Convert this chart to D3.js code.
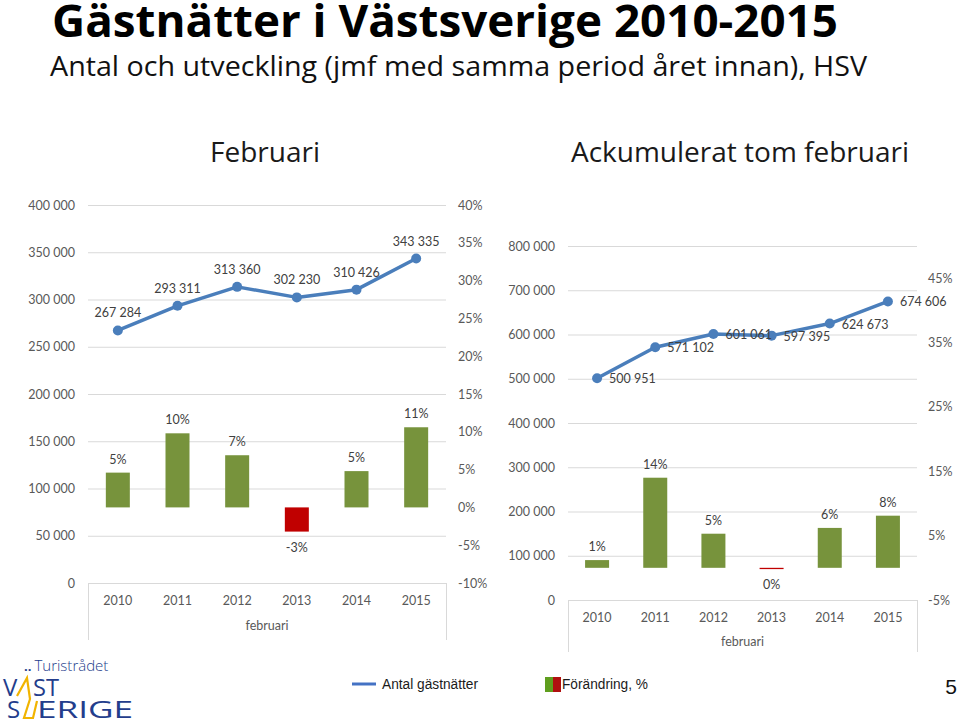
<!DOCTYPE html>
<html><head><meta charset="utf-8">
<script src="https://cdn.jsdelivr.net/npm/d3@7"></script>
<style>body{margin:0;background:#fff}svg{display:block}</style>
</head><body><svg id="c" width="960" height="725"></svg>
<script>
// ---- data ----
const years = ["2010","2011","2012","2013","2014","2015"];
const febNights = [267284, 293311, 313360, 302230, 310426, 343335];
const febChange = [4.6, 9.8, 6.9, -3.2, 4.8, 10.6];
const accNights = [500951, 571102, 601061, 597395, 624673, 674606];
const accChange = [1.2, 14.0, 5.3, -0.2, 6.2, 8.1];
const febLeftTicks = [0, 50000, 100000, 150000, 200000, 250000, 300000, 350000, 400000];
const febRightTicks = [-10, -5, 0, 5, 10, 15, 20, 25, 30, 35, 40];
const accLeftTicks = [0, 100000, 200000, 300000, 400000, 500000, 600000, 700000, 800000];
const accRightTicks = [-5, 5, 15, 25, 35, 45];
const titleText = "Gästnätter i Västsverige 2010-2015";
const subtitleText = "Antal och utveckling (jmf med samma period året innan), HSV";
const headers = ["Februari", "Ackumulerat tom februari"];
const catLabel = "februari";
const legendLabels = ["Antal gästnätter", "Förändring, %"];

const loc = d3.formatLocale({decimal: ",", thousands: " ", grouping: [3], currency: ["", ""], minus: "-"});
const fmtNum = loc.format(",d");
const fmtPct = v => loc.format(".0f")(v) + "%";

const svg = d3.select("#c");
const SMALL = "Lato, 'Open Sans', sans-serif";
const FS = 12.5;
const BLUE = "#4a7ebb", GREEN = "#77933c", RED = "#c00000", GRID = "#d9d9d9";

// ---- titles ----
svg.append("text").attr("x", 52).attr("y", 37)
  .attr("font-family", "'Open Sans', sans-serif").attr("font-weight", 700).attr("font-size", 44)
  .attr("textLength", 786).attr("lengthAdjust", "spacingAndGlyphs").attr("fill", "#000").text(titleText);
svg.append("text").attr("x", 50).attr("y", 76)
  .attr("font-family", "'Open Sans', sans-serif").attr("font-weight", 400).attr("font-size", 28)
  .attr("textLength", 817).attr("lengthAdjust", "spacingAndGlyphs").attr("fill", "#111").text(subtitleText);
[[265, headers[0]], [740, headers[1]]].forEach(([cx, t]) => {
  svg.append("text").attr("x", cx).attr("y", 162).attr("text-anchor", "middle")
    .attr("font-family", "'Open Sans', sans-serif").attr("font-size", 28).attr("fill", "#1a1a1a").text(t);
});

// ---- chart builder ----
function chart(o) {
  const g = svg.append("g");
  const x = d3.scaleBand().domain(years).range([o.x0, o.x1]);
  const yL = d3.scaleLinear().domain(o.lDom).range([o.yB, o.yT]);
  const yR = d3.scaleLinear().domain(o.rDom).range([o.yB, o.yT]);
  const cx = d => x(d) + x.bandwidth() / 2;

  g.append("g").attr("transform", `translate(${o.x0},0)`)
    .call(d3.axisLeft(yL).tickValues(o.lTicks).tickSize(-(o.x1 - o.x0)).tickFormat(""))
    .call(s => s.select(".domain").remove())
    .selectAll("line").attr("stroke", GRID).attr("stroke-width", 1);

  g.append("g").attr("transform", `translate(${o.x0},0)`)
    .call(d3.axisLeft(yL).tickValues(o.lTicks).tickSize(0).tickPadding(13).tickFormat(fmtNum))
    .call(s => s.select(".domain").remove())
    .selectAll("text").attr("font-family", SMALL).attr("font-size", FS).attr("fill", "#595959");

  g.append("g").attr("transform", `translate(${o.x1},0)`)
    .call(d3.axisRight(yR).tickValues(o.rTicks).tickSize(0).tickPadding(o.rPad).tickFormat(fmtPct))
    .call(s => s.select(".domain").remove())
    .selectAll("text").attr("font-family", SMALL).attr("font-size", FS).attr("fill", "#595959");

  [o.x0, o.x1].forEach(xx => g.append("line").attr("x1", xx + 0.5).attr("x2", xx + 0.5)
    .attr("y1", o.yB).attr("y2", o.boxB).attr("stroke", GRID));
  g.append("g").attr("transform", `translate(0,${o.yB})`)
    .call(d3.axisBottom(x).tickSize(0).tickPadding(o.catPad))
    .call(s => s.select(".domain").remove())
    .selectAll("text").attr("font-family", SMALL).attr("font-size", FS).attr("fill", "#595959");
  g.append("text").attr("x", (o.x0 + o.x1) / 2).attr("y", o.catY).attr("text-anchor", "middle")
    .attr("font-family", SMALL).attr("font-size", FS).attr("fill", "#595959").text(catLabel);

  const z = yR(0);
  const bw = 24;
  const bars = years.map((yr, i) => ({yr, v: o.change[i]}));
  g.selectAll("rect.bar").data(bars).join("rect").attr("class", "bar")
    .attr("x", d => cx(d.yr) - bw / 2).attr("width", bw)
    .attr("y", d => Math.min(yR(d.v), z)).attr("height", d => Math.max(1, Math.abs(yR(d.v) - z)))
    .attr("fill", d => d.v < 0 ? RED : GREEN);
  g.selectAll("text.bl").data(bars).join("text").attr("class", "bl")
    .attr("x", d => cx(d.yr)).attr("text-anchor", "middle")
    .attr("y", d => d.v < 0 ? Math.max(yR(d.v), z + 1) + 20 : yR(d.v) - 9)
    .attr("font-family", SMALL).attr("font-size", FS).attr("fill", "#404040")
    .text(d => fmtPct(d.v));

  const pts = years.map((yr, i) => ({yr, v: o.nights[i]}));
  g.append("path").datum(pts)
    .attr("d", d3.line().x(d => cx(d.yr)).y(d => yL(d.v)))
    .attr("fill", "none").attr("stroke", BLUE).attr("stroke-width", 3.5).attr("stroke-linejoin", "round");
  g.selectAll("circle").data(pts).join("circle")
    .attr("cx", d => cx(d.yr)).attr("cy", d => yL(d.v)).attr("r", 5).attr("fill", BLUE);
  g.selectAll("text.ll").data(pts).join("text").attr("class", "ll")
    .attr("x", d => o.labelRight ? cx(d.yr) + 12 : cx(d.yr))
    .attr("y", d => o.labelRight ? yL(d.v) + 5 : yL(d.v) - 13)
    .attr("text-anchor", o.labelRight ? "start" : "middle")
    .attr("font-family", SMALL).attr("font-size", FS).attr("fill", "#404040")
    .text(d => fmtNum(d.v));
}

chart({x0: 88, x1: 446, yT: 205, yB: 583, lDom: [0, 400000], rDom: [-10, 40],
  lTicks: febLeftTicks, rTicks: febRightTicks, rPad: 12, boxB: 640, catPad: 13, catY: 630,
  nights: febNights, change: febChange, labelRight: false});
chart({x0: 568, x1: 917, yT: 246, yB: 600, lDom: [0, 800000], rDom: [-5, 50],
  lTicks: accLeftTicks, rTicks: accRightTicks, rPad: 11, boxB: 652, catPad: 13, catY: 646,
  nights: accNights, change: accChange, labelRight: true});

// ---- legend ----
svg.append("line").attr("x1", 352).attr("x2", 376).attr("y1", 684).attr("y2", 684)
  .attr("stroke", "#4472c4").attr("stroke-width", 3);
svg.append("text").attr("x", 382).attr("y", 689).attr("font-family", "'Liberation Sans', Arial, sans-serif")
  .attr("font-size", 14).attr("textLength", 96).attr("lengthAdjust", "spacingAndGlyphs").attr("fill", "#1a1a1a")
  .text(legendLabels[0]);
svg.append("rect").attr("x", 545).attr("y", 677).attr("width", 8).attr("height", 15).attr("fill", "#5f9e1e");
svg.append("rect").attr("x", 553).attr("y", 677).attr("width", 8).attr("height", 15).attr("fill", "#b01010");
svg.append("text").attr("x", 562).attr("y", 689).attr("font-family", "'Liberation Sans', Arial, sans-serif")
  .attr("font-size", 14).attr("textLength", 86).attr("lengthAdjust", "spacingAndGlyphs").attr("fill", "#1a1a1a")
  .text(legendLabels[1]);
svg.append("text").attr("x", 951).attr("y", 694).attr("text-anchor", "middle")
  .attr("font-family", "'Liberation Sans', Arial, sans-serif").attr("font-size", 21).attr("fill", "#111").text("5");

// ---- logo ----
const LOGO_BLUE = "#233d8c", LOGO_YEL = "#f1b400";
const logo = svg.append("g");
const t1 = logo.append("text").attr("x", 24).attr("y", 671).attr("font-family", "'Open Sans', sans-serif")
  .attr("fill", LOGO_BLUE);
t1.append("tspan").attr("font-weight", 700).attr("font-size", 13).text("..");
t1.append("tspan").attr("dx", 3).attr("font-weight", 300).attr("font-size", 15).text("Turistrådet");
logo.append("text").attr("x", 3).attr("y", 696).attr("font-family", "'Open Sans', sans-serif")
  .attr("font-size", 24).attr("fill", LOGO_BLUE).text("V");
logo.append("text").attr("x", 33).attr("y", 696).attr("font-family", "'Open Sans', sans-serif")
  .attr("font-size", 24).attr("textLength", 26).attr("lengthAdjust", "spacingAndGlyphs").attr("fill", LOGO_BLUE).text("ST");
logo.append("text").attr("x", 7).attr("y", 718).attr("font-family", "'Open Sans', sans-serif")
  .attr("font-size", 24).attr("fill", LOGO_BLUE).text("S");
logo.append("text").attr("x", 37).attr("y", 718).attr("font-family", "'Open Sans', sans-serif")
  .attr("font-size", 24).attr("textLength", 96).attr("lengthAdjust", "spacingAndGlyphs").attr("fill", LOGO_BLUE).text("ERIGE");
logo.append("polyline").attr("points", "17,696 27,678 30,699 24,718 33,718 37,701")
  .attr("fill", "none").attr("stroke", LOGO_YEL).attr("stroke-width", 2.2);
</script></body></html>
